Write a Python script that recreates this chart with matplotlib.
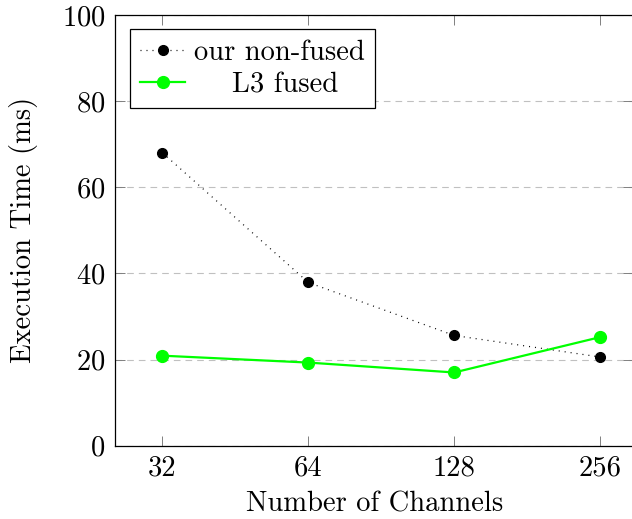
import matplotlib
matplotlib.use("Agg")
import matplotlib.pyplot as plt
import numpy as np

plt.rcParams['font.family'] = 'serif'
plt.rcParams['font.serif'] = ['cmr10', 'DejaVu Serif']
plt.rcParams['mathtext.fontset'] = 'cm'
plt.rcParams['axes.formatter.use_mathtext'] = True

channels = [32, 64, 128, 256]
non_fused = [68.0, 37.9, 25.6, 20.6]
l3_fused = [20.9, 19.3, 17.0, 25.2]
tick_labels = ["32", "64", "128", "256"]

fs = 20.6

fig = plt.figure(figsize=(6.32, 5.19), dpi=100)
# axes box in pixels: left 115, right 633 (just off the picture), top 15, bottom 446
ax = fig.add_axes([115.3 / 632, (519 - 445.7) / 519, (633 - 115.3) / 632, (445.7 - 15) / 519])

ax.plot(channels, non_fused, color="black", linestyle=(0, (0.8, 4)), linewidth=0.9,
        marker="o", markersize=7, label="our non-fused")
ax.plot(channels, l3_fused, color="#00ff00", linestyle="-", linewidth=1.6,
        marker="o", markersize=8.5, label="    L3 fused")

ax.set_xscale("log", base=2)
px_oct = 146.0
ax.set_xlim(2 ** (5 - 47.2 / px_oct), 2 ** (8 + 33 / px_oct))
ax.set_ylim(0, 100)
ax.set_xticks(channels)
ax.set_xticklabels(tick_labels)
ax.minorticks_off()
ax.set_yticks([0, 20, 40, 60, 80, 100])

ax.yaxis.grid(True, color="#c0c0c0", linestyle=(0, (6, 4.5)), linewidth=0.8)
ax.set_axisbelow(True)

ax.tick_params(direction="in", length=7.5, width=0.7, color="#808080",
               top=True, right=True, labelsize=fs)
ax.tick_params(axis="x", pad=7)
ax.tick_params(axis="y", pad=7)
for s in ax.spines.values():
    s.set_linewidth(0.9)

ax.set_xlabel("Number of Channels", fontsize=fs, labelpad=7)
ax.set_ylabel("Execution Time (ms)", fontsize=fs, labelpad=17)

leg = ax.legend(loc="upper left", fontsize=fs, frameon=True, fancybox=False,
                framealpha=1, edgecolor="black", handlelength=1.6,
                handletextpad=0.3, labelspacing=0.22, borderpad=0.35,
                borderaxespad=0.5)
leg.get_frame().set_linewidth(0.9)

fig.savefig("out.png", dpi=100)
